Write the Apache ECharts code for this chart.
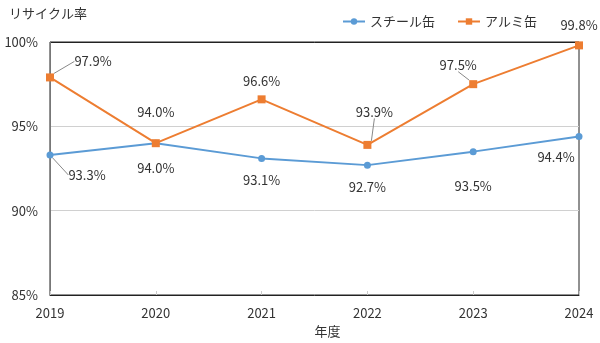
<!DOCTYPE html>
<html><head><meta charset="utf-8">
<script src="https://cdn.jsdelivr.net/npm/echarts@6/dist/echarts.min.js"></script>
<style>html,body{margin:0;padding:0;background:#fff}#c{width:600px;height:343px}</style>
</head><body><div id="c"></div>
<script>
const years = ['2019','2020','2021','2022','2023','2024'];
const steel = [93.3, 94.0, 93.1, 92.7, 93.5, 94.4];
const alu = [97.9, 94.0, 96.6, 93.9, 97.5, 99.8];
const seriesNames = ['スチール缶', 'アルミ缶'];
const yTicks = [85, 90, 95, 100];

const F = '"Noto Sans CJK JP", "Noto Sans", sans-serif';
// label offsets (dx, dy) relative to point, and whether a leader line is drawn
const steelOff = [[37,20],[0,25],[0,22],[0,22],[0,34],[-23,21]];
const steelLead = [true,false,false,false,false,false];
const aluOff = [[43,-16],[0,-31],[0,-18],[7,-33],[-15,-19],[0,-20]];
const aluLead = [true,false,false,true,true,false];

const mk = (vals, lead) => vals.map((v, i) => ({value: v, labelLine: {show: lead[i]}}));

const chart = echarts.init(document.getElementById('c'));
chart.setOption({
  animation: false,
  textStyle: {fontFamily: F},
  title: {text: 'リサイクル率', left: 4, top: 2, textStyle: {fontSize: 13, fontWeight: 'normal', color: '#333', fontFamily: F}},
  legend: {
    data: seriesNames, right: 58, top: 10, itemWidth: 22, itemHeight: 8, itemGap: 22,
    textStyle: {fontSize: 13, color: '#333', fontFamily: F}
  },
  grid: {left: 50, right: 21, top: 42, bottom: 48, show: true, borderColor: '#222', borderWidth: 1},
  xAxis: {
    type: 'category', data: years, boundaryGap: false,
    name: '年度', nameLocation: 'middle', nameGap: 28,
    nameTextStyle: {fontSize: 13, color: '#333', fontFamily: F, padding: [0,0,0,26]},
    axisLine: {lineStyle: {color: '#222'}},
    axisTick: {inside: true, length: 4, lineStyle: {color: '#ccc'}},
    axisLabel: {fontSize: 13, color: '#333', margin: 12, fontFamily: F}
  },
  yAxis: {
    type: 'value', min: yTicks[0], max: yTicks[yTicks.length-1], interval: 5,
    axisLine: {show: true, lineStyle: {color: '#777'}},
    axisTick: {show: false},
    axisLabel: {formatter: '{value}%', fontSize: 13, color: '#333', margin: 12, fontFamily: F},
    splitLine: {lineStyle: {color: ['#d0d0d0','#d0d0d0','#d0d0d0','#222']}}
  },
  series: [
    {
      name: seriesNames[0], type: 'line', data: mk(steel, steelLead),
      symbol: 'circle', symbolSize: 7,
      itemStyle: {color: '#5B9BD5'}, lineStyle: {color: '#5B9BD5', width: 2},
      label: {show: true, position: 'inside', formatter: p => p.value.toFixed(1) + '%', fontSize: 13, color: '#333', fontFamily: F},
      labelLine: {lineStyle: {color: '#888', width: 1}, length2: 0},
      labelLayout: p => ({dx: steelOff[p.dataIndex][0], dy: steelOff[p.dataIndex][1]})
    },
    {
      name: seriesNames[1], type: 'line', data: mk(alu, aluLead),
      symbol: 'rect', symbolSize: 8,
      itemStyle: {color: '#ED7D31'}, lineStyle: {color: '#ED7D31', width: 2},
      label: {show: true, position: 'inside', formatter: p => p.value.toFixed(1) + '%', fontSize: 13, color: '#333', fontFamily: F},
      labelLine: {lineStyle: {color: '#888', width: 1}, length2: 0},
      labelLayout: p => ({dx: aluOff[p.dataIndex][0], dy: aluOff[p.dataIndex][1]})
    }
  ]
});
</script></body></html>
